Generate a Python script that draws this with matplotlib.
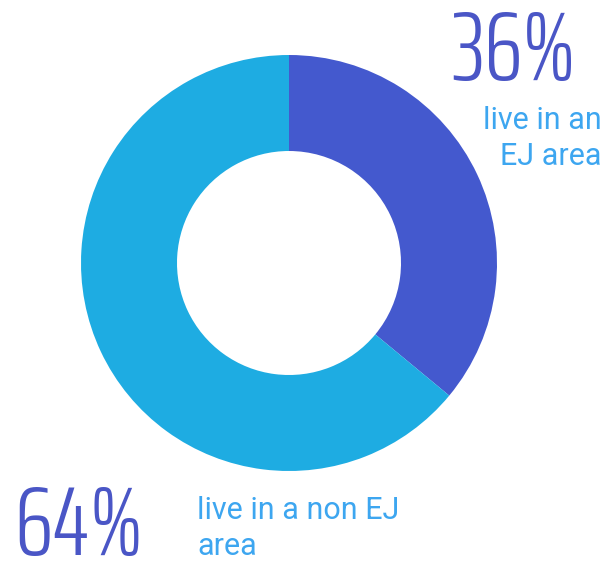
import matplotlib
matplotlib.use("Agg")
import matplotlib.pyplot as plt

labels = ["live in an\nEJ area", "live in a non EJ\narea"]
values = [36, 64]
pct_labels = ["36%", "64%"]
colors = ["#4459CE", "#1EACE2"]

W, H = 608, 563
fig = plt.figure(figsize=(W / 100, H / 100), dpi=100)
ax = fig.add_axes([0, 0, 1, 1])

R = 208
cx, cy = 289, H - 263
ax.pie(values, colors=colors, startangle=90, counterclock=False,
       radius=R, center=(cx, cy), frame=True,
       wedgeprops=dict(width=R - 112, linewidth=0))
ax.set_xlim(0, W)
ax.set_ylim(0, H)
ax.set_aspect("equal")
ax.axis("off")

num_color = "#4A56C6"
lab_color = "#3DA6F0"
numfont = ["Saira ExtraCondensed", "DejaVu Sans"]

ax.text(576, H - 80, pct_labels[0], ha="right", va="baseline", fontsize=71,
        family=numfont, weight=300, color=num_color)
ax.text(602, H - 165, labels[0], ha="right", va="baseline", fontsize=22,
        family="Roboto", color=lab_color, multialignment="right", linespacing=1.3)

ax.text(14, H - 555, pct_labels[1], ha="left", va="baseline", fontsize=71,
        family=numfont, weight=300, color=num_color)
ax.text(197, H - 555, labels[1], ha="left", va="baseline", fontsize=22,
        family="Roboto", color=lab_color, multialignment="left", linespacing=1.3)

fig.savefig("out.png", dpi=100)
